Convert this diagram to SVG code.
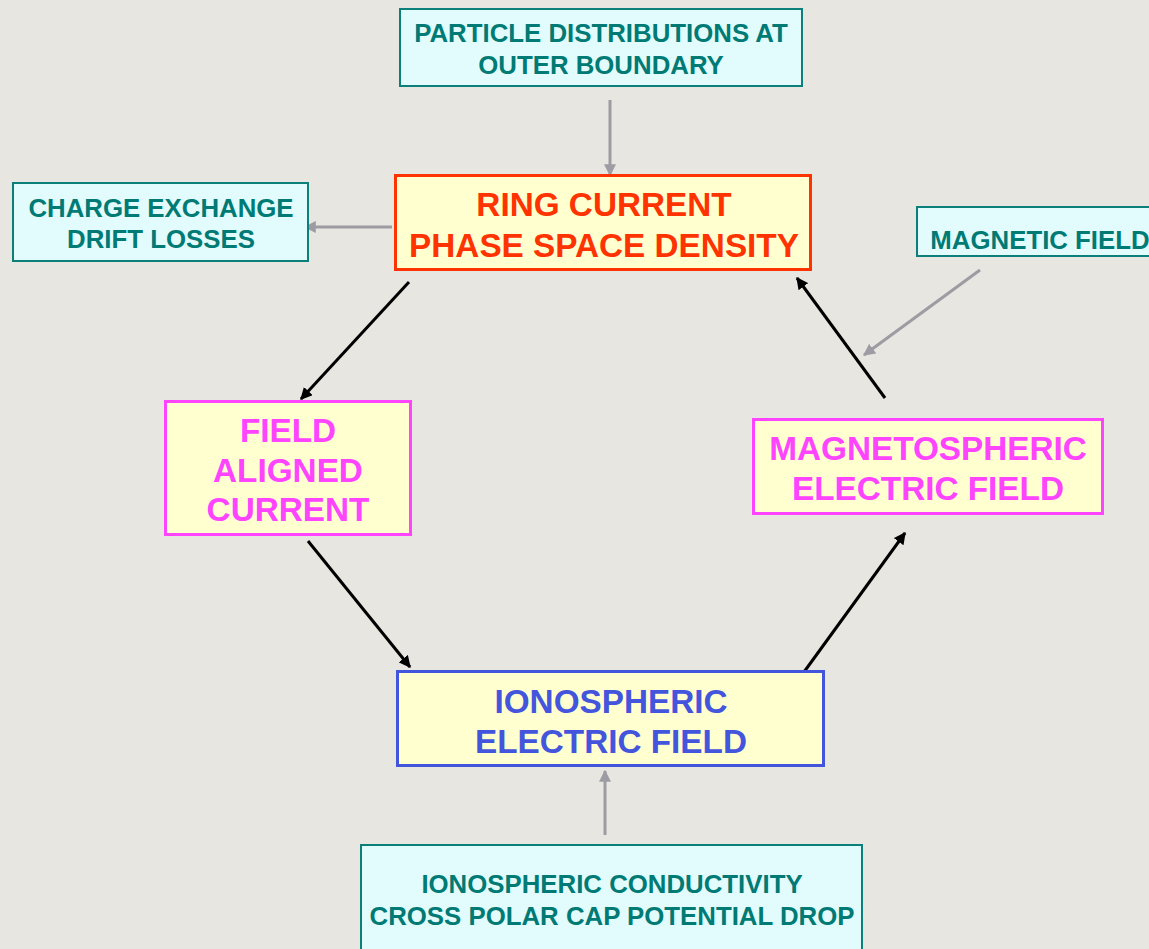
<svg xmlns="http://www.w3.org/2000/svg" width="1149" height="949" viewBox="0 0 1149 949">
<style>
text{font-family:"Liberation Sans",Arial,sans-serif;font-weight:bold;text-anchor:middle}
.cyan rect{fill:#e2fcfd;stroke:#0b7f7a;stroke-width:2}
.cyan text{fill:#007a74;font-size:25.8px}
.main rect{fill:#ffffcf;stroke-width:3}
.main text{font-size:33.3px}
.gray{stroke:#9e9ca3;stroke-width:3;fill:none}
.blk{stroke:#000;stroke-width:3;fill:none}
</style>
<defs>
<marker id="ag" viewBox="0 0 10 10" refX="9" refY="5" markerWidth="4" markerHeight="4" orient="auto" markerUnits="strokeWidth"><path d="M0,0 L10,5 L0,10 z" fill="#9e9ca3"/></marker>
<marker id="ab" viewBox="0 0 10 10" refX="9" refY="5" markerWidth="4" markerHeight="4" orient="auto" markerUnits="strokeWidth"><path d="M0,0 L10,5 L0,10 z" fill="#000"/></marker>
</defs>
<rect width="1149" height="949" fill="#e7e6e1"/>
<g id="connectors">
<line class="gray" x1="610" y1="100" x2="610" y2="175" marker-end="url(#ag)"/>
<line class="gray" x1="392" y1="227" x2="305" y2="227" marker-end="url(#ag)"/>
<line class="gray" x1="980" y1="270" x2="864" y2="355" marker-end="url(#ag)"/>
<line class="gray" x1="605" y1="835" x2="605" y2="771" marker-end="url(#ag)"/>
<line class="blk" x1="409" y1="282" x2="301" y2="399" marker-end="url(#ab)"/>
<line class="blk" x1="885" y1="398" x2="797" y2="278" marker-end="url(#ab)"/>
<line class="blk" x1="308" y1="541" x2="410" y2="667" marker-end="url(#ab)"/>
<line class="blk" x1="804" y1="672" x2="905" y2="533" marker-end="url(#ab)"/>
</g>
<g id="particle" class="cyan"><rect x="400" y="9" width="402" height="77"/><text x="601" y="42">PARTICLE DISTRIBUTIONS AT</text><text x="601" y="74">OUTER BOUNDARY</text></g>
<g id="charge" class="cyan"><rect x="13" y="183" width="295" height="78"/><text x="161" y="217">CHARGE EXCHANGE</text><text x="161" y="248">DRIFT LOSSES</text></g>
<g id="magfield" class="cyan"><rect x="917" y="207" width="240" height="49"/><text x="1040" y="249">MAGNETIC FIELD</text></g>
<g id="conductivity" class="cyan"><rect x="361" y="845" width="501" height="110"/><text x="612" y="893">IONOSPHERIC CONDUCTIVITY</text><text x="612" y="925">CROSS POLAR CAP POTENTIAL DROP</text></g>
<g id="ring" class="main"><rect x="395.5" y="175.5" width="415" height="94" stroke="#ff3300"/><text x="604" y="216" fill="#ff3300">RING CURRENT</text><text x="604" y="257" fill="#ff3300">PHASE SPACE DENSITY</text></g>
<g id="fac" class="main"><rect x="165.5" y="401.5" width="245" height="133" stroke="#ff44ff"/><text x="288" y="442" fill="#ff44ff">FIELD</text><text x="288" y="482" fill="#ff44ff">ALIGNED</text><text x="288" y="521" fill="#ff44ff">CURRENT</text></g>
<g id="magneto" class="main"><rect x="753.5" y="419.5" width="349" height="94" stroke="#ff44ff"/><text x="928" y="460" fill="#ff44ff">MAGNETOSPHERIC</text><text x="928" y="500" fill="#ff44ff">ELECTRIC FIELD</text></g>
<g id="iono" class="main"><rect x="397.5" y="671.5" width="426" height="94" stroke="#4455dd"/><text x="611" y="713" fill="#4455dd">IONOSPHERIC</text><text x="611" y="753" fill="#4455dd">ELECTRIC FIELD</text></g>
</svg>
